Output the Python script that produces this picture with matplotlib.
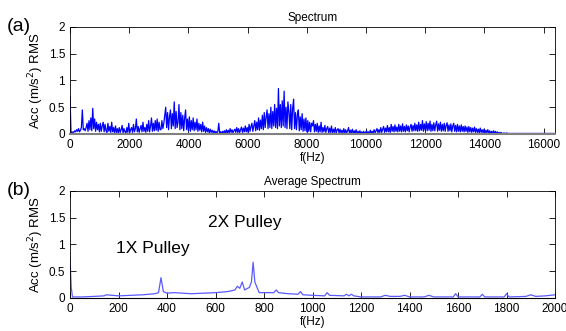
import matplotlib.pyplot as plt
import numpy as np

plt.rcParams['font.family'] = ['Liberation Sans', 'DejaVu Sans']

# full spectrum, 32 Hz bins
spec_step = 32
spec_vals = [
    0.70, 0.05, 0.02, 0.04, 0.03, 0.06, 0.04, 0.08, 0.05, 0.10, 0.04, 0.07, 0.12, 0.45, 0.08, 0.10,
    0.06, 0.12, 0.20, 0.05, 0.25, 0.08, 0.30, 0.06, 0.48, 0.10, 0.28, 0.05, 0.22, 0.08, 0.18, 0.04,
    0.20, 0.05, 0.15, 0.22, 0.04, 0.18, 0.06, 0.03, 0.20, 0.05, 0.14, 0.03, 0.22, 0.04, 0.12, 0.02,
    0.15, 0.03, 0.10, 0.02, 0.12, 0.03, 0.08, 0.16, 0.02, 0.10, 0.04, 0.02, 0.12, 0.03, 0.20, 0.02,
    0.08, 0.12, 0.03, 0.18, 0.04, 0.10, 0.28, 0.04, 0.14, 0.03, 0.10, 0.16, 0.04, 0.22, 0.05, 0.12,
    0.03, 0.18, 0.05, 0.25, 0.04, 0.15, 0.30, 0.05, 0.20, 0.06, 0.25, 0.07, 0.28, 0.05, 0.22, 0.08,
    0.08, 0.25, 0.10, 0.20, 0.35, 0.50, 0.12, 0.40, 0.08, 0.32, 0.45, 0.10, 0.38, 0.15, 0.60, 0.10,
    0.42, 0.12, 0.22, 0.55, 0.08, 0.40, 0.10, 0.35, 0.06, 0.30, 0.45, 0.08, 0.28, 0.06, 0.32, 0.05,
    0.25, 0.08, 0.30, 0.06, 0.22, 0.08, 0.28, 0.05, 0.20, 0.07, 0.18, 0.04, 0.22, 0.05, 0.15, 0.03,
    0.12, 0.04, 0.10, 0.02, 0.09, 0.03, 0.07, 0.02, 0.06, 0.01, 0.05, 0.02, 0.04, 0.20, 0.02, 0.04,
    0.01, 0.05, 0.02, 0.06, 0.01, 0.08, 0.02, 0.07, 0.02, 0.10, 0.03, 0.08, 0.02, 0.06, 0.09, 0.03,
    0.12, 0.03, 0.10, 0.02, 0.08, 0.13, 0.03, 0.11, 0.04, 0.15, 0.04, 0.12, 0.03, 0.18, 0.05, 0.14,
    0.20, 0.05, 0.15, 0.25, 0.06, 0.22, 0.08, 0.30, 0.07, 0.26, 0.10, 0.35, 0.08, 0.40, 0.12, 0.32,
    0.45, 0.10, 0.38, 0.12, 0.50, 0.10, 0.42, 0.15, 0.55, 0.12, 0.48, 0.10, 0.85, 0.15, 0.55, 0.12,
    0.62, 0.15, 0.80, 0.12, 0.50, 0.10, 0.60, 0.42, 0.10, 0.55, 0.08, 0.48, 0.65, 0.10, 0.40, 0.08,
    0.35, 0.45, 0.06, 0.32, 0.08, 0.38, 0.05, 0.28, 0.06, 0.30, 0.04, 0.25, 0.05, 0.22, 0.04, 0.20,
    0.15, 0.25, 0.04, 0.18, 0.05, 0.20, 0.03, 0.15, 0.04, 0.22, 0.03, 0.12, 0.04, 0.16, 0.03, 0.10,
    0.14, 0.02, 0.11, 0.03, 0.15, 0.02, 0.09, 0.03, 0.12, 0.02, 0.08, 0.10, 0.02, 0.09, 0.02, 0.07,
    0.02, 0.10, 0.01, 0.08, 0.02, 0.06, 0.12, 0.01, 0.07, 0.02, 0.09, 0.01, 0.06, 0.01, 0.08, 0.01,
    0.05, 0.01, 0.06, 0.01, 0.04, 0.01, 0.05, 0.01, 0.03, 0.06, 0.01, 0.04, 0.01, 0.07, 0.01, 0.05,
    0.02, 0.08, 0.02, 0.06, 0.10, 0.02, 0.08, 0.03, 0.12, 0.03, 0.09, 0.14, 0.03, 0.11, 0.04, 0.16,
    0.04, 0.12, 0.03, 0.18, 0.05, 0.14, 0.04, 0.17, 0.05, 0.13, 0.04, 0.18, 0.05, 0.15, 0.04, 0.19,
    0.05, 0.14, 0.04, 0.17, 0.06, 0.15, 0.04, 0.13, 0.18, 0.05, 0.16, 0.06, 0.20, 0.06, 0.17, 0.05,
    0.22, 0.06, 0.18, 0.07, 0.25, 0.05, 0.19, 0.07, 0.23, 0.06, 0.20, 0.07, 0.24, 0.05, 0.18, 0.06,
    0.21, 0.06, 0.17, 0.24, 0.05, 0.19, 0.07, 0.22, 0.05, 0.18, 0.06, 0.20, 0.05, 0.16, 0.21, 0.05,
    0.17, 0.06, 0.19, 0.04, 0.15, 0.20, 0.05, 0.16, 0.04, 0.18, 0.05, 0.15, 0.04, 0.17, 0.05, 0.14,
    0.04, 0.15, 0.05, 0.13, 0.03, 0.14, 0.04, 0.12, 0.03, 0.11, 0.04, 0.13, 0.03, 0.10, 0.03, 0.09,
    0.02, 0.11, 0.03, 0.08, 0.02, 0.09, 0.02, 0.07, 0.02, 0.08, 0.02, 0.06, 0.01, 0.05, 0.01, 0.06,
    0.01, 0.05, 0.01, 0.04, 0.01, 0.03, 0.01, 0.03, 0.01, 0.01, 0.02, 0.01, 0.01, 0.02, 0.01, 0.01,
] + [0.01] * 48
spec_freq = np.arange(len(spec_vals)) * spec_step

# average spectrum
avg_freq = [0, 5, 10, 50, 100, 140, 150, 200, 250, 300, 350, 365, 375, 385, 400, 430, 500, 600,
            650, 680, 690, 700, 710, 720, 740, 748, 755, 762, 780, 840, 850, 860, 900, 940, 950,
            960, 1000, 1050, 1060, 1070, 1130, 1140, 1150, 1160, 1170, 1200, 1280, 1300, 1320,
            1360, 1380, 1400, 1460, 1480, 1500, 1580, 1590, 1600, 1690, 1700, 1710, 1790, 1800,
            1810, 1880, 1900, 1920, 1960, 2000]
avg_vals = [0.75, 0.20, 0.02, 0.02, 0.03, 0.04, 0.06, 0.04, 0.05, 0.06, 0.08, 0.10, 0.38, 0.12,
            0.09, 0.10, 0.08, 0.10, 0.12, 0.15, 0.22, 0.18, 0.30, 0.15, 0.20, 0.30, 0.67, 0.30,
            0.10, 0.10, 0.15, 0.10, 0.08, 0.07, 0.12, 0.06, 0.05, 0.04, 0.10, 0.05, 0.04, 0.07,
            0.04, 0.07, 0.04, 0.02, 0.02, 0.05, 0.03, 0.03, 0.05, 0.02, 0.02, 0.05, 0.02, 0.02,
            0.08, 0.02, 0.02, 0.07, 0.02, 0.02, 0.08, 0.02, 0.03, 0.06, 0.03, 0.04, 0.06]

fig = plt.figure(figsize=(5.66, 3.31), dpi=100)
ax1 = fig.add_axes([0.1237, 0.5952, 0.857, 0.3233])
ax2 = fig.add_axes([0.1237, 0.0997, 0.857, 0.3233])

ax1.plot(spec_freq, spec_vals, color='#0000ff', lw=0.9)
ax1.set_xlim(0, 16384)
ax1.set_xticks(np.arange(0, 16001, 2000))
ax1.set_title('Spectrum', fontsize=8.5, pad=4)
ax1.spines['bottom'].set_color('#808080')
ax1.spines['bottom'].set_linewidth(1.5)

ax2.plot(avg_freq, avg_vals, color='#5a5aff', lw=0.9)
ax2.set_xlim(0, 2000)
ax2.set_xticks(np.arange(0, 2001, 200))
ax2.set_title('Average Spectrum', fontsize=8.5, pad=4)
ax2.text(190, 0.92, '1X Pulley', fontsize=12.5, va='center')
ax2.text(569, 1.42, '2X Pulley', fontsize=12.5, va='center')

for ax in (ax1, ax2):
    ax.set_ylim(0, 2)
    ax.set_yticks([0, 0.5, 1, 1.5, 2])
    ax.set_yticklabels(['0', '0.5', '1', '1.5', '2'])
    ax.tick_params(direction='in', top=True, right=True, labelsize=8.5, length=4, width=0.6)
    ax.set_xlabel('f(Hz)', fontsize=8.5, labelpad=1)
    ax.set_ylabel('Acc (m/s$^2$) RMS', fontsize=9.5, labelpad=2)
    for s in ('top', 'left', 'right'):
        ax.spines[s].set_linewidth(0.6)

fig.text(0.012, 0.905, '(a)', fontsize=14)
fig.text(0.012, 0.41, '(b)', fontsize=14)

fig.savefig('out.png', dpi=100)
